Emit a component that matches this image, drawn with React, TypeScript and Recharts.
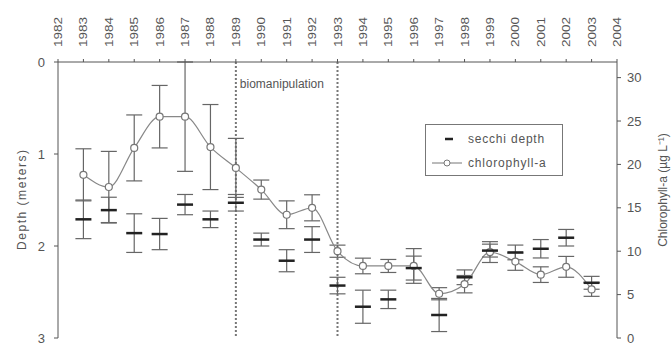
import {
  ComposedChart,
  Line,
  XAxis,
  YAxis,
  ErrorBar,
  ReferenceLine,
  Legend,
} from 'recharts'

// sampling years
const years = [
  1983, 1984, 1985, 1986, 1987, 1988, 1989, 1990, 1991, 1992, 1993,
  1994, 1995, 1996, 1997, 1998, 1999, 2000, 2001, 2002, 2003,
]
// secchi depth (m) and its error
const secchi = [
  1.71, 1.61, 1.86, 1.87, 1.55, 1.71, 1.53, 1.93, 2.16, 1.93, 2.43,
  2.66, 2.58, 2.24, 2.75, 2.34, 2.05, 2.07, 2.03, 1.91, 2.4,
]
const secchiErr = [
  0.21, 0.14, 0.21, 0.17, 0.11, 0.09, 0.09, 0.07, 0.12, 0.14, 0.09,
  0.18, 0.1, 0.13, 0.18, 0.08, 0.07, 0.08, 0.1, 0.09, 0.07,
]
// chlorophyll-a (ug/L) and its error
const chl = [
  18.8, 17.4, 21.9, 25.5, 25.5, 22.0, 19.6, 17.1, 14.2, 15.0, 10.0,
  8.3, 8.3, 8.3, 5.1, 6.2, 9.9, 8.8, 7.3, 8.2, 5.6,
]
const chlErr = [
  3.0, 4.1, 3.8, 3.6, 6.3, 4.9, 3.4, 1.1, 1.6, 1.5, 0.7,
  0.9, 0.75, 2.0, 0.7, 1.0, 1.2, 1.0, 0.9, 1.2, 0.8,
]

const yearTicks = Array.from({ length: 23 }, (_, i) => 1982 + i)
const depthTicks = [0, 1, 2, 3]
const chlTicks = [0, 5, 10, 15, 20, 25, 30]

const data = years.map((year, i) => ({
  year,
  secchi: secchi[i],
  secchiErr: secchiErr[i],
  chl: chl[i],
  chlErr: chlErr[i],
}))

const FONT = '"Liberation Sans", Arial, sans-serif'
const TEXT = '#555'
const AXIS = '#555'

function YearTick(props: any) {
  const { x, y, payload } = props
  return (
    <text
      x={x}
      y={y}
      transform={`rotate(-90 ${x} ${y})`}
      textAnchor="start"
      dominantBaseline="central"
      fontSize={11}
      fontFamily={FONT}
      fill={TEXT}
      textLength={30}
      lengthAdjust="spacingAndGlyphs"
    >
      {payload.value}
    </text>
  )
}

function SecchiMark(props: any) {
  const { cx, cy } = props
  if (cx == null || cy == null) return <g />
  return <line x1={cx - 8} x2={cx + 8} y1={cy} y2={cy} stroke="#222" strokeWidth={2.5} />
}

function LegendBox() {
  return (
    <div
      style={{
        border: '1px solid #777',
        width: 138,
        height: 52,
        boxSizing: 'border-box',
        fontFamily: FONT,
        fontSize: 12,
        letterSpacing: 0.8,
        color: TEXT,
        background: '#fff',
      }}
    >
      <div style={{ display: 'flex', alignItems: 'center', height: 25, marginTop: 1 }}>
        <svg width={42} height={12}>
          <line x1={19} x2={27} y1={6} y2={6} stroke="#222" strokeWidth={2.5} />
        </svg>
        <span>secchi depth</span>
      </div>
      <div style={{ display: 'flex', alignItems: 'center', height: 23 }}>
        <svg width={42} height={12}>
          <line x1={6} x2={36} y1={6} y2={6} stroke="#777" strokeWidth={1} />
          <circle cx={21} cy={6} r={3} fill="#fff" stroke="#777" />
        </svg>
        <span>chlorophyll-a</span>
      </div>
    </div>
  )
}

export default function App() {
  return (
    <div style={{ position: 'absolute', left: 0, top: 0, background: '#fff' }}>
      <ComposedChart
        width={671}
        height={348}
        data={data}
        margin={{ top: 0, right: 0, bottom: 10, left: 0 }}
      >
        <XAxis
          dataKey="year"
          type="number"
          orientation="top"
          domain={[1982, 2004]}
          ticks={yearTicks}
          interval={0}
          height={62}
          tickSize={3}
          tickMargin={12}
          tick={<YearTick />}
          axisLine={{ stroke: AXIS }}
          tickLine={{ stroke: AXIS }}
        />
        <YAxis
          yAxisId="depth"
          reversed
          domain={[0, 3]}
          ticks={depthTicks}
          width={58}
          tickSize={4}
          tickMargin={9}
          tick={{ fontSize: 13, fontFamily: FONT, fill: TEXT }}
          axisLine={{ stroke: AXIS }}
          tickLine={{ stroke: AXIS }}
          label={{
            content: (p: any) => {
              const vb = p.viewBox
              const x = vb.x + 22
              const y = vb.y + vb.height / 2
              return (
                <text
                  x={x}
                  y={y}
                  transform={`rotate(-90 ${x} ${y})`}
                  textAnchor="middle"
                  dominantBaseline="central"
                  fontSize={12}
                  fontFamily={FONT}
                  fill={TEXT}
                  textLength={100}
                  lengthAdjust="spacing"
                >
                  Depth (meters)
                </text>
              )
            },
          }}
        />
        <YAxis
          yAxisId="chl"
          orientation="right"
          domain={[0, 31.8]}
          ticks={chlTicks}
          width={54}
          tickSize={4}
          tickMargin={6}
          tick={{ fontSize: 13, fontFamily: FONT, fill: TEXT }}
          axisLine={{ stroke: AXIS }}
          tickLine={{ stroke: AXIS }}
          label={{
            content: (p: any) => {
              const vb = p.viewBox
              const x = vb.x + 46
              const y = vb.y + vb.height / 2 - 10
              return (
                <text
                  x={x}
                  y={y}
                  transform={`rotate(-90 ${x} ${y})`}
                  textAnchor="middle"
                  dominantBaseline="central"
                  fontSize={12}
                  fontFamily={FONT}
                  fill={TEXT}
                >
                  Chlorophyll-a (µg L⁻¹)
                </text>
              )
            },
          }}
        />
        <ReferenceLine
          x={1989}
          yAxisId="depth"
          stroke="#777"
          strokeWidth={2}
          strokeDasharray="2 2"
          label={{
            content: (p: any) => (
              <text
                x={p.viewBox.x + 4}
                y={p.viewBox.y + 22}
                dominantBaseline="central"
                fontSize={12}
                fontFamily={FONT}
                fill={TEXT}
              >
                biomanipulation
              </text>
            ),
          }}
        />
        <ReferenceLine
          x={1993}
          yAxisId="depth"
          stroke="#777"
          strokeWidth={2}
          strokeDasharray="2 2"
        />
        <Legend
          layout="horizontal"
          verticalAlign="middle"
          align="center"
          wrapperStyle={{ left: 425, top: 124, width: 'auto', height: 'auto' }}
          content={() => <LegendBox />}
        />
        <Line
          yAxisId="chl"
          dataKey="chl"
          type="monotone"
          stroke="#888"
          strokeWidth={1.2}
          dot={{ r: 3.5, fill: '#fff', stroke: '#777', strokeWidth: 1.2 }}
          activeDot={false}
          isAnimationActive={false}
        >
          <ErrorBar dataKey="chlErr" width={8} stroke="#666" strokeWidth={1.2} direction="y" />
        </Line>
        <Line
          yAxisId="depth"
          dataKey="secchi"
          stroke="none"
          dot={<SecchiMark />}
          activeDot={false}
          isAnimationActive={false}
        >
          <ErrorBar dataKey="secchiErr" width={8} stroke="#666" strokeWidth={1.2} direction="y" />
        </Line>
      </ComposedChart>
    </div>
  )
}
